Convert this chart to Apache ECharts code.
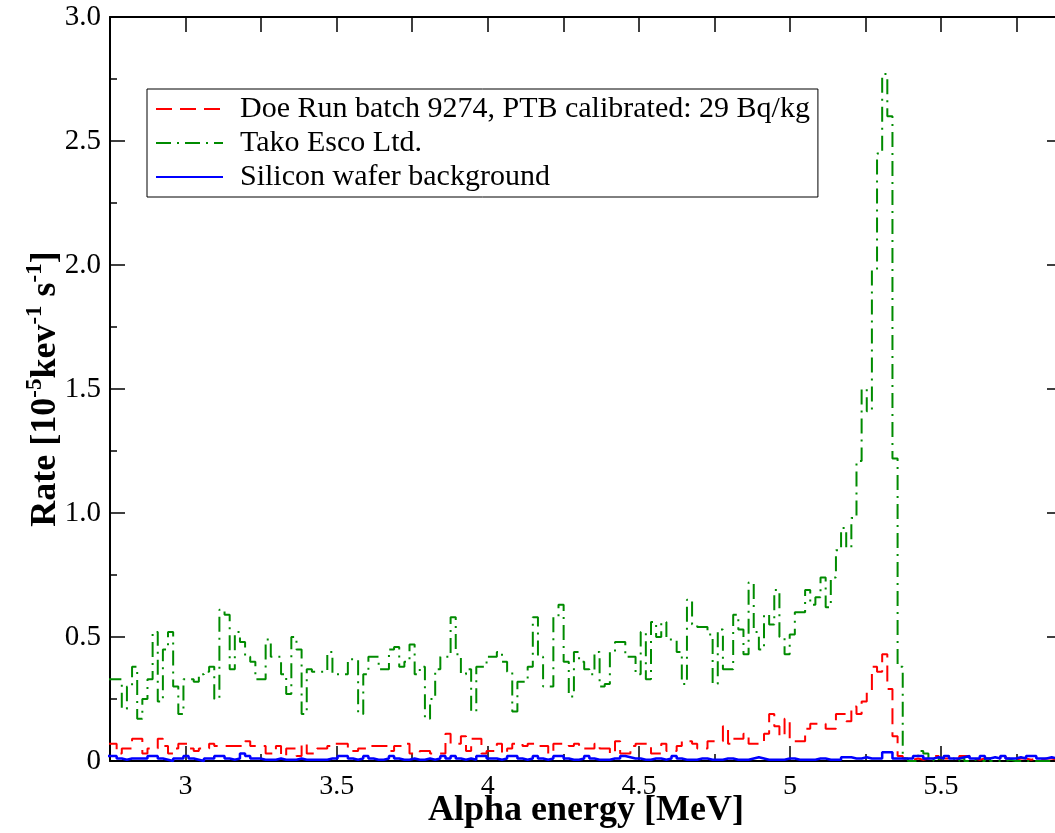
<!DOCTYPE html>
<html>
<head>
<meta charset="UTF-8">
<title>Alpha spectrum</title>
<script src="https://cdn.jsdelivr.net/npm/echarts@6/dist/echarts.min.js"></script>
<style>
html, body { margin: 0; padding: 0; background: #fff; }
#chart { width: 1055px; height: 833px; }
</style>
</head>
<body>
<div id="chart"></div>
<script>
// histogram bins: left edge of first bin and bin width [MeV]
var binStart = 2.738;
var binWidth = 0.017;

var seriesNames = ['Doe Run batch 9274, PTB calibrated: 29 Bq/kg', 'Tako Esco Ltd.', 'Silicon wafer background'];

// rate per bin [10^-5 keV^-1 s^-1]
var doeRun = [
  0.07,0.07,0.03,0.05,0.05,0.09,0.09,0.03,0.05,0.05,
  0.09,0.06,0.03,0.05,0.07,0.07,0.05,0.04,0.05,0.05,
  0.07,0.06,0.06,0.06,0.06,0.06,0.06,0.08,0.06,0.06,
  0.06,0.03,0.03,0.06,0.02,0.05,0.05,0.02,0.07,0.03,
  0.03,0.05,0.05,0.06,0.07,0.07,0.07,0.04,0.04,0.05,
  0.05,0.06,0.06,0.06,0.06,0.04,0.06,0.06,0.07,0.03,
  0.03,0.04,0.04,0.03,0.03,0.03,0.11,0.07,0.07,0.10,
  0.04,0.09,0.09,0.03,0.04,0.04,0.07,0.03,0.05,0.07,
  0.07,0.06,0.07,0.07,0.06,0.06,0.03,0.07,0.07,0.07,
  0.06,0.07,0.05,0.05,0.05,0.07,0.05,0.05,0.03,0.08,
  0.03,0.03,0.06,0.07,0.07,0.07,0.03,0.03,0.07,0.04,
  0.04,0.06,0.08,0.08,0.07,0.05,0.05,0.08,0.08,0.08,
  0.14,0.07,0.09,0.09,0.11,0.07,0.07,0.07,0.11,0.19,
  0.14,0.10,0.17,0.08,0.08,0.08,0.13,0.15,0.15,0.15,
  0.13,0.13,0.19,0.19,0.16,0.22,0.19,0.24,0.28,0.38,
  0.36,0.43,0.29,0.10,0.02,
  0.01,0.005,0.01,0.005,0.01,0.01,0.02,0.01,0.01,0.005,
  0.01,0.02,0.02,0.01,0.005,0.01,0.01,0.005,0.01,0.02,
  0.01,0.005,0.01,0.01,0.005,0.01,0.005,0.01,0.01,0.005,
  0.005,0.01
];

var takoEsco = [
  0.33,0.33,0.33,0.21,0.30,0.38,0.17,0.25,0.33,0.52,
  0.24,0.45,0.52,0.30,0.19,0.33,0.33,0.32,0.35,0.36,
  0.38,0.25,0.61,0.59,0.37,0.52,0.48,0.42,0.40,0.33,
  0.33,0.49,0.42,0.42,0.35,0.27,0.50,0.45,0.19,0.37,
  0.36,0.36,0.36,0.44,0.35,0.35,0.35,0.41,0.41,0.19,
  0.35,0.42,0.42,0.37,0.37,0.45,0.46,0.38,0.40,0.47,
  0.35,0.38,0.17,0.25,0.37,0.42,0.42,0.58,0.43,0.35,
  0.37,0.20,0.38,0.38,0.42,0.42,0.44,0.40,0.36,0.20,
  0.32,0.32,0.38,0.58,0.42,0.30,0.30,0.58,0.63,0.40,
  0.26,0.44,0.40,0.37,0.35,0.44,0.30,0.31,0.44,0.48,
  0.48,0.42,0.42,0.35,0.52,0.33,0.56,0.50,0.56,0.49,
  0.49,0.44,0.31,0.65,0.55,0.54,0.54,0.51,0.31,0.53,
  0.37,0.37,0.59,0.53,0.43,0.72,0.52,0.45,0.59,0.55,
  0.69,0.50,0.43,0.51,0.60,0.60,0.69,0.63,0.66,0.74,
  0.62,0.74,0.85,0.94,0.86,0.98,1.21,1.50,1.41,1.98,
  2.45,2.77,2.60,1.22,0.38,
  0.01,0,0,0.04,0.03,0.01,0,0.01,0.02,0.01,
  0,0.01,0,0.005,0,0,0.01,0,0,0,
  0.005,0,0,0,0,0,0,0,0,0,
  0,0
];

var silicon = [
  0.02,0.02,0.01,0.005,0.01,0.01,0.01,0.01,0.02,0.02,
  0.01,0.005,0,0.01,0.01,0.02,0.01,0.005,0,0.01,
  0.01,0.02,0.02,0.01,0.005,0.01,0.03,0.02,0.01,0.01,
  0.005,0.005,0.005,0.01,0.005,0.005,0.005,0.01,0.005,0.005,
  0.005,0.005,0.005,0.01,0.01,0.02,0.02,0.01,0.005,0.01,
  0.02,0.01,0.005,0.005,0.01,0.02,0.01,0.005,0.005,0.01,
  0.005,0.005,0.01,0.005,0.01,0.02,0.01,0.02,0.01,0.005,
  0.01,0.005,0.02,0.02,0.01,0.01,0.005,0.01,0.02,0.02,
  0.01,0.005,0.01,0.02,0.01,0.005,0.01,0.02,0.02,0.01,
  0.005,0.005,0.01,0.02,0.01,0.005,0.005,0.005,0.01,0.01,
  0.02,0.015,0.01,0.01,0.005,0.005,0.01,0.01,0.005,0.01,
  0.02,0.01,0.005,0.005,0.005,0.01,0.01,0.005,0.005,0.005,
  0.01,0.01,0.005,0.005,0.005,0.01,0.015,0.01,0.005,0.005,
  0.005,0.005,0.01,0.01,0.005,0.005,0.005,0.005,0.01,0.01,
  0.005,0.005,0.005,0.015,0.015,0.01,0.01,0.015,0.01,0.01,
  0.01,0.035,0.035,0.01,0.01,
  0.01,0.01,0.02,0.02,0.01,0.01,0.015,0.01,0.02,0.01,
  0.01,0.015,0.02,0.01,0.01,0.02,0.01,0.015,0.01,0.02,
  0.01,0.01,0.015,0.01,0.02,0.02,0.01,0.01,0.015,0.01,
  0.01,0.01
];

// axis ticks and labels
var xMajorTicks = [3, 3.5, 4, 4.5, 5, 5.5];
var xMinorTicks = [3.25, 3.75, 4.25, 4.75, 5.25, 5.75];
var xTopTicks = [3, 3.25, 3.5, 3.75, 4, 4.25, 4.5, 4.75, 5, 5.25, 5.5, 5.75];

var serif = 'Liberation Serif';

// turn bin values into [leftEdge, value] points, closing the last bin
function histPoints(vals) {
  var pts = [];
  for (var i = 0; i < vals.length; i++) {
    pts.push([binStart + i * binWidth, vals[i]]);
  }
  pts.push([binStart + vals.length * binWidth, vals[vals.length - 1]]);
  return pts;
}

var chart = echarts.init(document.getElementById('chart'));

var frameLine = {show: true, onZero: false, lineStyle: {color: '#000', width: 2}};
var tickLine = {color: '#000', width: 1.5};

var option = {
  animation: false,
  backgroundColor: '#fff',
  // the right frame sits just past the picture edge
  grid: {left: 110, width: 952, top: 17, bottom: 72, outerBoundsMode: 'none'},
  legend: {
    orient: 'vertical',
    left: 147,
    top: 89,
    itemWidth: 67,
    itemHeight: 14,
    itemGap: 2,
    padding: [4, 8, 4, 8],
    backgroundColor: '#fff',
    borderColor: '#000',
    borderWidth: 1,
    borderRadius: 0,
    itemStyle: {opacity: 0},
    textStyle: {fontFamily: serif, fontSize: 30, lineHeight: 32, color: '#000', padding: [0, 0, 0, 12]},
    data: seriesNames
  },
  xAxis: [
    {
      type: 'value', min: 2.75, max: 5.9, position: 'bottom',
      axisLine: frameLine,
      axisTick: {show: true, inside: true, length: 15, customValues: xMajorTicks, lineStyle: tickLine},
      axisLabel: {
        customValues: xMajorTicks, margin: 12,
        fontFamily: serif, fontSize: 28, color: '#000',
        formatter: function (v) { return String(v); }
      },
      splitLine: {show: false},
      name: 'Alpha energy [MeV]',
      nameLocation: 'middle',
      nameGap: 32,
      nameMoveOverlap: false,
      nameTextStyle: {fontFamily: serif, fontSize: 36, fontWeight: 'bold', color: '#000', verticalAlign: 'top'}
    },
    {
      type: 'value', min: 2.75, max: 5.9, position: 'bottom',
      axisLine: {show: false, onZero: false},
      axisTick: {show: true, inside: true, length: 7, customValues: xMinorTicks, lineStyle: tickLine},
      axisLabel: {show: false},
      splitLine: {show: false}
    },
    {
      type: 'value', min: 2.75, max: 5.9, position: 'top',
      axisLine: frameLine,
      axisTick: {show: true, inside: true, length: 15, customValues: xTopTicks, lineStyle: tickLine},
      axisLabel: {show: false},
      splitLine: {show: false}
    }
  ],
  yAxis: [
    {
      type: 'value', min: 0, max: 3, interval: 0.5, position: 'left',
      axisLine: frameLine,
      axisTick: {show: true, inside: true, length: 15, lineStyle: tickLine},
      minorTick: {show: true, splitNumber: 2, length: 7, lineStyle: tickLine},
      axisLabel: {
        margin: 9, fontFamily: serif, fontSize: 29, color: '#000',
        formatter: function (v) { return v === 0 ? '0' : v.toFixed(1); }
      },
      splitLine: {show: false},
      minorSplitLine: {show: false},
      name: 'Rate [10{sup|-5}kev{sup|-1} s{sup|-1}]',
      nameLocation: 'middle',
      nameGap: 42,
      nameMoveOverlap: false,
      nameTextStyle: {
        fontFamily: serif, fontSize: 36, fontWeight: 'bold', color: '#000', lineHeight: 44,
        rich: {
          sup: {fontFamily: serif, fontSize: 23, fontWeight: 'bold', color: '#000', lineHeight: 22, verticalAlign: 'top'}
        }
      }
    },
    {
      type: 'value', min: 0, max: 3, interval: 0.5, position: 'right',
      axisLine: frameLine,
      axisTick: {show: true, inside: true, length: 15, lineStyle: tickLine},
      minorTick: {show: true, splitNumber: 2, length: 7, lineStyle: tickLine},
      axisLabel: {show: false},
      splitLine: {show: false},
      minorSplitLine: {show: false}
    }
  ],
  series: [
    {
      name: seriesNames[0], type: 'line', step: 'end', symbol: 'none',
      xAxisIndex: 0, yAxisIndex: 0, clip: true,
      data: histPoints(doeRun),
      lineStyle: {color: '#ff0000', width: 2, type: [16, 8]},
      itemStyle: {color: '#ff0000'}
    },
    {
      name: seriesNames[1], type: 'line', step: 'end', symbol: 'none',
      xAxisIndex: 0, yAxisIndex: 0, clip: true,
      data: histPoints(takoEsco),
      lineStyle: {color: '#008b00', width: 2, type: [15, 6, 2, 6]},
      itemStyle: {color: '#008b00'}
    },
    {
      name: seriesNames[2], type: 'line', step: 'end', symbol: 'none',
      xAxisIndex: 0, yAxisIndex: 0, clip: true,
      data: histPoints(silicon),
      lineStyle: {color: '#0000ff', width: 2.5},
      itemStyle: {color: '#0000ff'}
    }
  ]
};

chart.setOption(option);
</script>
</body>
</html>
